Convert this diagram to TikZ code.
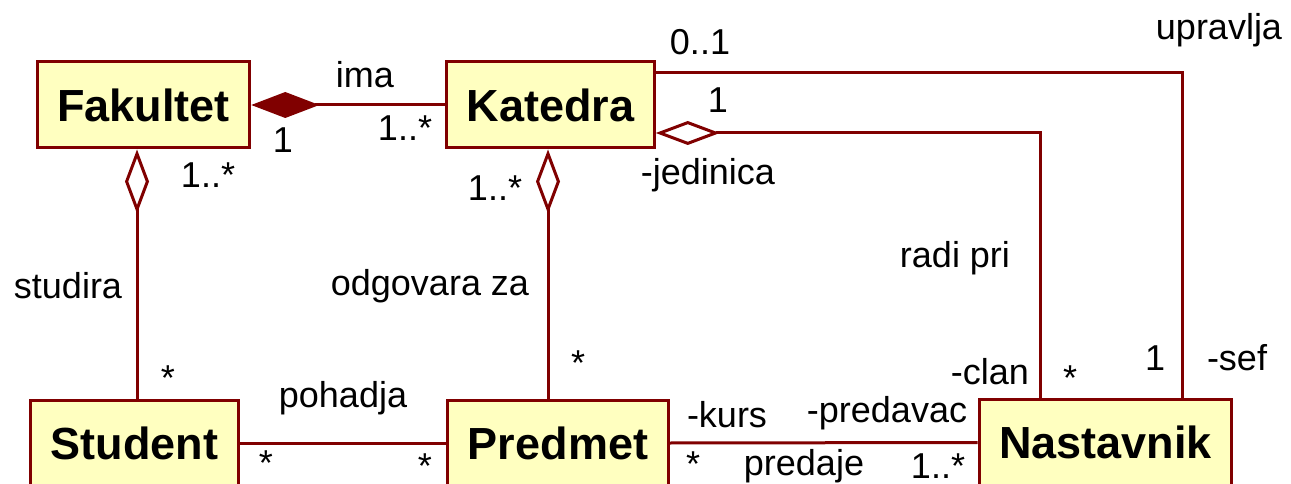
\documentclass[tikz,border=0pt]{standalone}
\usepackage{fontspec}
\setmainfont{Liberation Sans}
\usetikzlibrary{calc,arrows.meta}
\definecolor{umlred}{RGB}{128,0,0}
\definecolor{umlfill}{RGB}{255,255,192}

\begin{document}
\begin{tikzpicture}[x=1pt,y=-1pt,
  class/.style={draw=umlred,fill=umlfill,line width=3pt,minimum height=86pt,
    inner xsep=20pt,font=\fontsize{45}{50}\selectfont\bfseries},
  assoc/.style={draw=umlred,line width=3pt},
  lab/.style={font=\fontsize{36}{40}\selectfont,inner sep=0pt},
  comp/.style={{Diamond[length=68pt,width=26pt,fill=umlred,line width=3pt]}-},
  aggr/.style={{Diamond[length=64pt,width=24pt,fill=white,line width=3pt]}-}]
  \useasboundingbox (0,0) rectangle (1291,484);
  \clip (0,0) rectangle (1291,484);

  \draw (143.5,105) node[class] (fak) {Fakultet};
  \draw (550.5,105) node[class] (kat) {Katedra};
  \draw (134.5,443) node[class] (stu) {Student};
  \draw (558,443) node[class] (pre) {Predmet};
  \draw (1105.5,442.5) node[class] (nas) {Nastavnik};

  \coordinate (fs) at ($(fak.south)+(-6.5,0)$);
  \coordinate (ks) at ($(kat.south)+(-2.5,0)$);
  \coordinate (kr) at ($(kat.east)+(0,28)$);
  \coordinate (ku) at ($(kat.east)+(0,-32)$);
  \coordinate (nc) at ($(nas.north)+(-65.5,0)$);
  \coordinate (ns) at ($(nas.north)+(76.5,0)$);

  \draw[assoc,comp] (fak.east) -- (kat.west);
  \draw[assoc,aggr] (fs) -- (fs |- stu.north);
  \draw[assoc,aggr] (ks) -- (ks |- pre.north);
  \draw[assoc,aggr] (kr) -| (nc);
  \draw[assoc] (ku) -| (ns);
  \draw[assoc] (stu.east) -- (pre.west);
  \draw[assoc] (pre.east) -- (nas.west);

  % multiplicities and roles
  \node[lab] (ima) at (365,75) {ima};
  \node[lab] (imaa) at (283,140) {1};
  \node[lab] (imab) at (405,128) {1..*};
  \node[lab] (stua) at (208,175) {1..*};
  \node[lab] (stun) at (68,286) {studira};
  \node[lab] (stub) at (168,378) {*};
  \node[lab] (odga) at (495,188) {1..*};
  \node[lab] (odgn) at (430,286) {odgovara za};
  \node[lab] (odgb) at (578,363) {*};
  \node[lab] (upra) at (700,42) {0..1};
  \node[lab] (upn) at (1219,30) {upravlja};
  \node[lab] (upb) at (1155,358) {1};
  \node[lab] (sef) at (1237,358) {-sef};
  \node[lab] (rada) at (718,100) {1};
  \node[lab] (jed) at (708,175) {-jedinica};
  \node[lab] (radn) at (955,258) {radi pri};
  \node[lab] (clan) at (990,372) {-clan};
  \node[lab] (radb) at (1070,378) {*};
  \node[lab] (poh) at (343,398) {pohadja};
  \node[lab] (poha) at (266,463) {*};
  \node[lab] (pohb) at (425,466) {*};
  \node[lab] (kurs) at (727,415) {-kurs};
  \node[lab] (pred) at (887,413) {-predavac};
  \node[lab] (prea) at (693,464) {*};
  \node[lab] (pren) at (804,466) {predaje};
  \node[lab] (preb) at (938,466) {1..*};
\end{tikzpicture}
\end{document}
